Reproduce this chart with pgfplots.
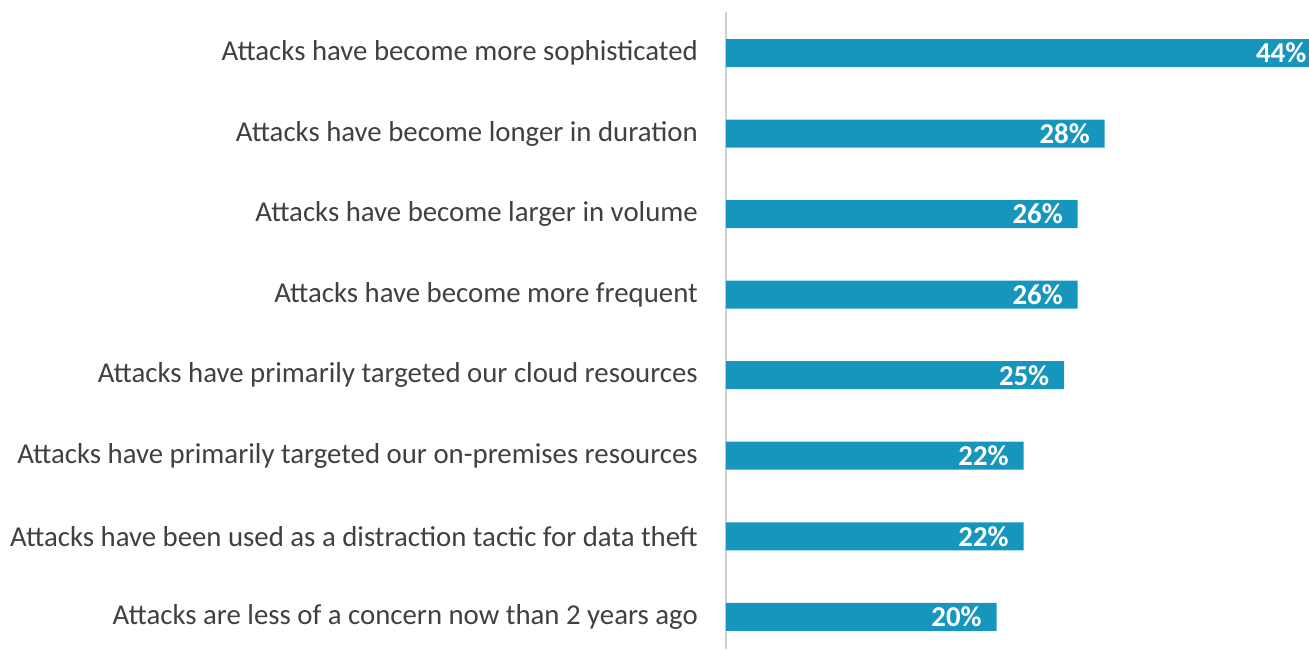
\documentclass[border=0pt]{standalone}
\usepackage{pgfplots}
\pgfplotsset{compat=1.18}
\usepackage{fontspec}
\setmainfont{Carlito}
\definecolor{barblue}{HTML}{1696BD}
\definecolor{txtgray}{HTML}{404040}
\definecolor{axgray}{HTML}{D0D0D0}
\begin{document}
\begin{tikzpicture}
\begin{axis}[
  xbar,
  width=437.25pt, height=477.75pt,
  scale only axis,
  xmin=0, xmax=43.1,
  ymin=-0.51, ymax=7.40,
  y dir=reverse,
  bar width=21pt,
  axis x line=none,
  axis y line*=left,
  y axis line style={draw=axgray, line width=1.5pt},
  ytick={0,...,7},
  yticklabels={
    Attacks have become more sophisticated,
    Attacks have become longer in duration,
    Attacks have become larger in volume,
    Attacks have become more frequent,
    Attacks have primarily targeted our cloud resources,
    Attacks have primarily targeted our on-premises resources,
    Attacks have been used as a distraction tactic for data theft,
    Attacks are less of a concern now than 2 years ago},
  major tick length=0pt,
  ytick style={draw=none},
  yticklabel style={font=\fontsize{21.6}{25}\selectfont, text=txtgray, inner sep=0pt, anchor=east, xshift=-21pt},
  /pgf/number format/assume math mode=true,
  nodes near coords={\pgfmathprintnumber{\pgfplotspointmeta}\%},
  nodes near coords style={font=\bfseries\fontsize{21.6}{25}\selectfont, text=white, anchor=east, inner sep=0pt, xshift=-11pt},
  point meta=explicit,
  clip=false,
]
\addplot[fill=barblue, draw=none] coordinates {
  (44,0) [44] (28,1) [28] (26,2) [26] (26,3) [26]
  (25,4) [25] (22,5) [22] (22,6) [22] (20,7) [20]
};
\coordinate (tl) at (rel axis cs:0,1);
\coordinate (br) at (rel axis cs:1,0);
\end{axis}
\pgfresetboundingbox
\path ([xshift=-544.5pt,yshift=9pt]tl) rectangle (br);
\end{tikzpicture}
\end{document}
